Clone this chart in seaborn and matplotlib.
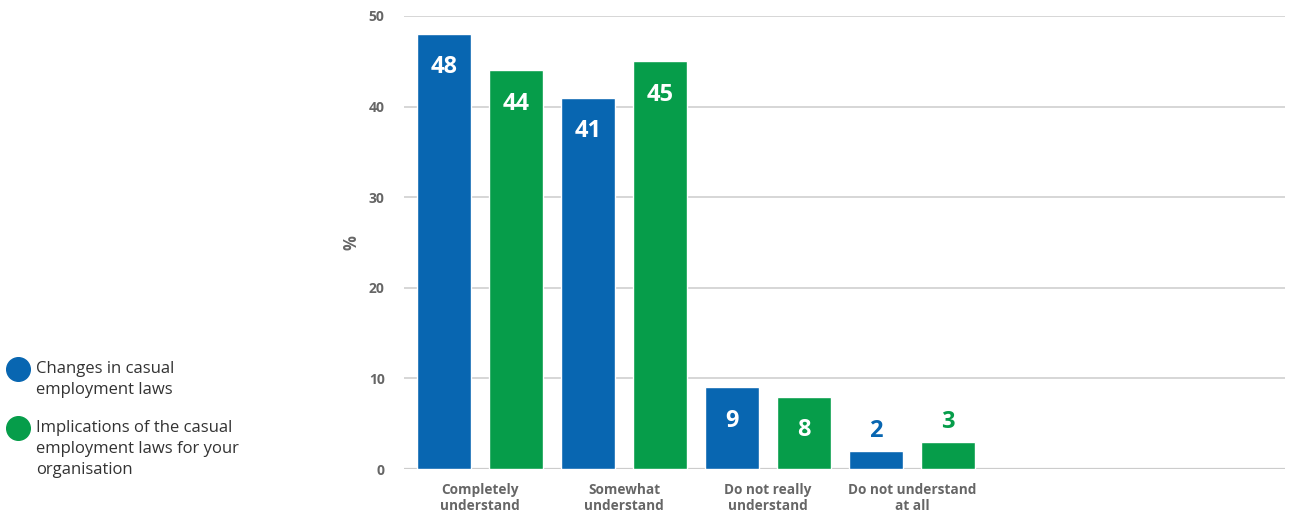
import matplotlib
matplotlib.use("Agg")
import matplotlib.pyplot as plt
from matplotlib.lines import Line2D
import seaborn as sns
import pandas as pd

categories = ["Completely\nunderstand", "Somewhat\nunderstand", "Do not really\nunderstand", "Do not understand\nat all"]
series_names = ["Changes in casual\nemployment laws",
                "Implications of the casual\nemployment laws for your\norganisation"]
changes_values = [48, 41, 9, 2]
implications_values = [44, 45, 8, 3]
y_ticks = [0, 10, 20, 30, 40, 50]

BLUE = "#0866b1"
GREEN = "#069d4a"
GRID = "#cccccc"
TICK = "#666666"

sns.set_theme(style="white")
plt.rcParams["font.family"] = ["Open Sans", "DejaVu Sans"]

df = pd.DataFrame({
    "category": categories * 2,
    "series": [series_names[0]] * 4 + [series_names[1]] * 4,
    "value": changes_values + implications_values,
})

fig = plt.figure(figsize=(13, 5.14), dpi=100)
ax = fig.add_axes([0.3108, 0.0875, 0.9885 - 0.3108, 0.9689 - 0.0875])

sns.barplot(data=df, x="category", y="value", hue="series", order=categories,
            hue_order=series_names, palette=[BLUE, GREEN], width=1.0, gap=0.25,
            saturation=1, legend=False, ax=ax, zorder=3)

ax.set_xlim(-0.528, 5.59)
ax.set_ylim(0, 50)
ax.set_yticks(y_ticks)
ax.set_yticklabels([str(t) for t in y_ticks], fontsize=10, fontweight="bold", color=TICK)
ax.set_xticks(range(len(categories)))
ax.set_xticklabels(categories, fontsize=9.8, fontweight="bold", color=TICK, linespacing=1.2)
ax.tick_params(axis="y", length=0, pad=14)
ax.tick_params(axis="x", length=0, pad=10)
for t in y_ticks:
    ax.axhline(t, color=GRID, lw=1.1 if t else 1.6, zorder=1)
for s in ax.spines.values():
    s.set_visible(False)
ax.set_xlabel("")
ax.set_ylabel("%", fontsize=12, fontweight="bold", color=TICK, labelpad=6)

# value labels: white inside tall bars, coloured above short bars
colors = [BLUE, GREEN]
for cont, color in zip(ax.containers, colors):
    for bar in cont:
        h = bar.get_height()
        cx = bar.get_x() + bar.get_width() / 2
        if h >= 5:
            ax.annotate(f"{h:.0f}", (cx, h), xytext=(0, -24), textcoords="offset points",
                        ha="center", va="center", color="white", fontsize=17, fontweight="bold", zorder=4)
        else:
            ax.annotate(f"{h:.0f}", (cx, h), xytext=(0, 14), textcoords="offset points",
                        ha="center", va="center", color=color, fontsize=17, fontweight="bold", zorder=4)

# legend on the left
W, H = 1300, 514
legend_rows = [(369, series_names[0], BLUE), (428, series_names[1], GREEN)]
for ypix, label, color in legend_rows:
    fig.add_artist(Line2D([18 / W], [1 - ypix / H], marker="o", markersize=17,
                          color=color, transform=fig.transFigure))
    fig.text(36 / W, 1 - (ypix - 8) / H, label, ha="left", va="top", fontsize=12,
             color="#333333", linespacing=1.4)

fig.savefig("out.png", dpi=100)
